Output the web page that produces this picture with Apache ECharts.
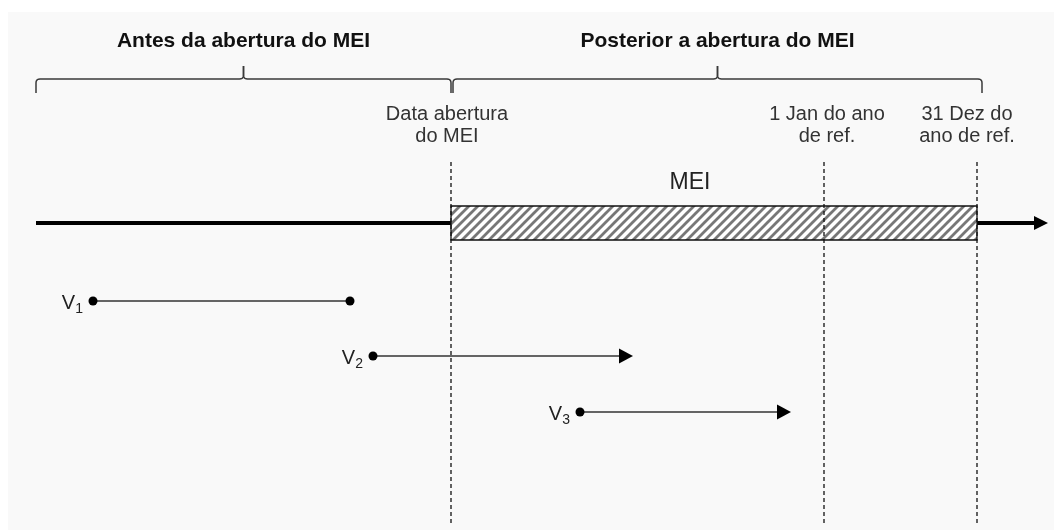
<!DOCTYPE html>
<html><head><meta charset="utf-8">
<script src="https://cdn.jsdelivr.net/npm/echarts@6/dist/echarts.min.js"></script>
<style>html,body{margin:0;padding:0;background:#fff}#c{width:1054px;height:530px}</style>
</head><body><div id="c"></div>
<script>
// ---- data (timeline units) ----
const phaseNames = ['Antes da abertura do MEI', 'Posterior a abertura do MEI'];
const phaseStart = [36, 453];
const phaseEnd = [451, 982];
const milestoneNames = ['Data abertura\ndo MEI', '1 Jan do ano\nde ref.', '31 Dez do\nano de ref.'];
const milestoneX = [451, 824, 977];
const timelineRange = [36, 1048];
const meiRange = [451, 977];
const meiName = 'MEI';
const periodNames = ['1', '2', '3'];
const periodStart = [93, 373, 580];
const periodEnd = [350, 633, 791];
const periodOpen = [false, true, true];

// ---- layout (rows on the vertical axis) ----
const ROW = { title: 41, bracket: 79, label: 125, meiLabel: 183, timeline: 223, barTop: 206, barBottom: 240, dashTop: 162, dashBottom: 523, periods: [301, 356, 412] };
const labelShift = [-4, 3, -10];
const meiLabelShift = -24;
const FONT = '"Liberation Sans", Arial, sans-serif';

function quad(p0, c, p1, n) {
  const pts = [];
  for (let k = 1; k <= n; k++) {
    const t = k / n;
    pts.push([
      (1 - t) * (1 - t) * p0[0] + 2 * (1 - t) * t * c[0] + t * t * p1[0],
      (1 - t) * (1 - t) * p0[1] + 2 * (1 - t) * t * c[1] + t * t * p1[1]
    ]);
  }
  return pts;
}

// hatch pattern
const P = 9;
const pc = document.createElement('canvas');
pc.width = P; pc.height = P;
const g = pc.getContext('2d');
g.fillStyle = '#ffffff'; g.fillRect(0, 0, P, P);
g.strokeStyle = '#777777'; g.lineWidth = 2.8;
g.beginPath();
g.moveTo(-2, P + 2); g.lineTo(P + 2, -2);
g.moveTo(-P - 2, P + 2); g.lineTo(2, -2);
g.moveTo(P - 2, P + 2); g.lineTo(2 * P + 2, -2);
g.stroke();

const chart = echarts.init(document.getElementById('c'));

function arrow(tip, len, half) {
  return { type: 'polygon', shape: { points: [[tip[0], tip[1]], [tip[0] - len, tip[1] - half], [tip[0] - len, tip[1] + half]] }, style: { fill: '#000' } };
}

const option = {
  animation: false,
  backgroundColor: '#ffffff',
  grid: { left: 8, right: 0, top: 12, bottom: 0, show: true, backgroundColor: '#f9f9f9', borderWidth: 0 },
  xAxis: { type: 'value', min: 8, max: 1054, show: false },
  yAxis: { type: 'value', min: 12, max: 530, inverse: true, show: false },
  series: [
    // brackets + phase titles
    {
      type: 'custom', clip: false,
      data: phaseNames.map((n, i) => [phaseStart[i], phaseEnd[i]]),
      renderItem: function (params, api) {
        const i = params.dataIndex;
        const a = api.coord([api.value(0), ROW.bracket]);
        const b = api.coord([api.value(1), ROW.bracket]);
        const m = api.coord([(api.value(0) + api.value(1)) / 2, ROW.bracket]);
        const y = a[1], r = 4;
        let pts = [[a[0], y + 14], [a[0], y + r]];
        pts = pts.concat(quad([a[0], y + r], [a[0], y], [a[0] + r, y], 5));
        pts.push([m[0] - r, y]);
        pts = pts.concat(quad([m[0] - r, y], [m[0], y], [m[0], y - r], 5));
        pts.push([m[0], y - 13]);
        let pts2 = [[m[0], y - 13], [m[0], y - r]];
        pts2 = pts2.concat(quad([m[0], y - r], [m[0], y], [m[0] + r, y], 5));
        pts2.push([b[0] - r, y]);
        pts2 = pts2.concat(quad([b[0] - r, y], [b[0], y], [b[0], y + r], 5));
        pts2.push([b[0], y + 14]);
        const t = api.coord([(api.value(0) + api.value(1)) / 2, ROW.title]);
        return {
          type: 'group', children: [
            { type: 'polyline', shape: { points: pts }, style: { stroke: '#3a3a3a', lineWidth: 1.5, fill: null } },
            { type: 'polyline', shape: { points: pts2 }, style: { stroke: '#3a3a3a', lineWidth: 1.5, fill: null } },
            { type: 'text', x: t[0], y: t[1], style: { text: phaseNames[i], font: 'bold 21px ' + FONT, fill: '#111', align: 'center', verticalAlign: 'middle' } }
          ]
        };
      }
    },
    // timeline + MEI bar
    {
      type: 'custom', clip: false,
      data: [[timelineRange[0], timelineRange[1], meiRange[0], meiRange[1]]],
      renderItem: function (params, api) {
        const s = api.coord([api.value(0), ROW.timeline]);
        const e = api.coord([api.value(1), ROW.timeline]);
        const m0 = api.coord([api.value(2), ROW.barTop]);
        const m1 = api.coord([api.value(3), ROW.barBottom]);
        const lbl = api.coord([(api.value(2) + api.value(3)) / 2 + meiLabelShift, ROW.meiLabel]);
        return {
          type: 'group', children: [
            { type: 'line', shape: { x1: s[0], y1: s[1], x2: m0[0], y2: s[1] }, style: { stroke: '#000', lineWidth: 4 } },
            { type: 'line', shape: { x1: m1[0], y1: s[1], x2: e[0] - 10, y2: s[1] }, style: { stroke: '#000', lineWidth: 4 } },
            arrow(e, 14, 7),
            { type: 'rect', shape: { x: m0[0], y: m0[1], width: m1[0] - m0[0], height: m1[1] - m0[1] }, style: { fill: { image: pc, repeat: 'repeat' }, stroke: '#111', lineWidth: 1.3 } },
            { type: 'text', x: lbl[0], y: lbl[1], style: { text: meiName, font: '23px ' + FONT, fill: '#222', align: 'center', verticalAlign: 'middle' } }
          ]
        };
      }
    },
    // milestones: dashed lines + labels
    {
      type: 'custom', clip: false, z: 5,
      data: milestoneX.map(v => [v]),
      renderItem: function (params, api) {
        const i = params.dataIndex;
        const top = api.coord([api.value(0), ROW.dashTop]);
        const bot = api.coord([api.value(0), ROW.dashBottom]);
        const lb = api.coord([api.value(0), ROW.label]);
        return {
          type: 'group', children: [
            { type: 'line', shape: { x1: top[0], y1: top[1], x2: bot[0], y2: bot[1] }, style: { stroke: '#111', lineWidth: 1.3, lineDash: [4, 3] } },
            { type: 'text', x: lb[0] + labelShift[i], y: lb[1], style: { text: milestoneNames[i], font: '20px ' + FONT, fill: '#333', align: 'center', verticalAlign: 'middle', lineHeight: 22 } }
          ]
        };
      }
    },
    // periods V1..V3
    {
      type: 'custom', clip: false,
      data: periodNames.map((n, i) => [periodStart[i], periodEnd[i]]),
      renderItem: function (params, api) {
        const i = params.dataIndex;
        const a = api.coord([api.value(0), ROW.periods[i]]);
        const b = api.coord([api.value(1), ROW.periods[i]]);
        const ch = [
          { type: 'line', shape: { x1: a[0], y1: a[1], x2: periodOpen[i] ? b[0] - 8 : b[0], y2: b[1] }, style: { stroke: '#333', lineWidth: 1.6 } },
          { type: 'circle', shape: { cx: a[0], cy: a[1], r: 4.5 }, style: { fill: '#000' } },
          { type: 'text', x: a[0] - 10, y: a[1] + 2, style: {
              text: '{v|V}{s|' + periodNames[i] + '}', align: 'right', verticalAlign: 'middle',
              rich: { v: { font: '20px ' + FONT, fill: '#222' }, s: { font: '14px ' + FONT, fill: '#222', padding: [12, 0, 0, 0] } } } }
        ];
        if (periodOpen[i]) {
          ch.push(arrow(b, 14, 7.5));
        } else {
          ch.push({ type: 'circle', shape: { cx: b[0], cy: b[1], r: 4.5 }, style: { fill: '#000' } });
        }
        return { type: 'group', children: ch };
      }
    }
  ]
};
chart.setOption(option);
</script>
</body></html>
